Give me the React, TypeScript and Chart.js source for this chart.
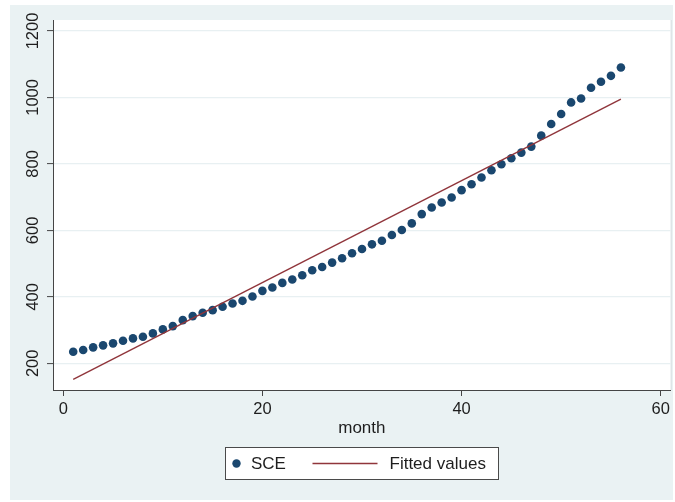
import { useEffect, useRef } from "react";
import { Chart, registerables } from "chart.js";

Chart.register(...registerables);

const months = [
  1, 2, 3, 4, 5, 6, 7, 8, 9, 10, 11, 12, 13, 14, 15, 16, 17, 18, 19, 20,
  21, 22, 23, 24, 25, 26, 27, 28, 29, 30, 31, 32, 33, 34, 35, 36, 37, 38, 39, 40,
  41, 42, 43, 44, 45, 46, 47, 48, 49, 50, 51, 52, 53, 54, 55, 56,
];
const sce = [
  235, 240, 248, 254, 260, 268, 275, 280, 290, 302, 312, 330, 342, 352, 360, 370, 380, 388, 401, 418,
  428, 442, 452, 465, 480, 490, 503, 516, 531, 544, 558, 569, 586, 601, 621, 649, 669, 684, 699, 721,
  739, 759, 781, 799, 817, 834, 852, 885, 920, 950, 985, 997, 1029, 1047, 1065, 1090,
];
const fittedMonths = [1, 56];
const fittedValues = [152, 995];
const xTicks = [0, 20, 40, 60];
const yTicks = [200, 400, 600, 800, 1000, 1200];
const seriesNames = ["SCE", "Fitted values"];
const xTitle = "month";

const FONT = '"Liberation Sans", Arial, Helvetica, sans-serif';
const NAVY = "#1a476f";
const MAROON = "#90353b";
const BG = "rgb(234,242,243)";
const TEXT = "#1e1e1e";
const AXIS = "#454545";

const stataPlugin = {
  id: "stataLook",
  beforeDraw(chart: any) {
    const { ctx, chartArea: a } = chart;
    ctx.save();
    ctx.fillStyle = "#ffffff";
    ctx.fillRect(0, 0, chart.width, chart.height);
    ctx.fillStyle = BG;
    ctx.fillRect(10, 5, 663, 495);
    ctx.fillStyle = "#ffffff";
    ctx.fillRect(a.left, a.top, a.right - a.left, a.bottom - a.top);
    ctx.strokeStyle = "#d8e0e2";
    ctx.lineWidth = 1;
    ctx.beginPath();
    ctx.moveTo(a.right + 0.5, a.top);
    ctx.lineTo(a.right + 0.5, a.bottom);
    ctx.stroke();
    ctx.restore();
  },
  afterDraw(chart: any) {
    const { ctx, chartArea: a } = chart;
    const ds = chart.data.datasets;
    const w = 273;
    const h = 32;
    const cx = (a.left + a.right) / 2;
    const left = Math.round(cx - w / 2) + 0.5;
    const top = 447.5;
    const cy = top + h / 2;
    ctx.save();
    ctx.fillStyle = "#ffffff";
    ctx.fillRect(left, top, w, h);
    ctx.strokeStyle = "#4a4a4a";
    ctx.lineWidth = 1;
    ctx.strokeRect(left, top, w, h);
    // SCE marker
    ctx.fillStyle = ds[1].backgroundColor;
    ctx.beginPath();
    ctx.arc(left + 11, cy, 4.2, 0, Math.PI * 2);
    ctx.fill();
    ctx.font = `17px ${FONT}`;
    ctx.fillStyle = TEXT;
    ctx.textBaseline = "middle";
    ctx.textAlign = "left";
    ctx.fillText(seriesNames[0], left + 25.5, cy + 1);
    // fitted line
    ctx.strokeStyle = ds[0].borderColor;
    ctx.lineWidth = 1.4;
    ctx.beginPath();
    ctx.moveTo(left + 87, cy);
    ctx.lineTo(left + 152, cy);
    ctx.stroke();
    ctx.fillText(seriesNames[1], left + 164, cy + 1);
    ctx.restore();
  },
};

export default function App() {
  const ref = useRef<HTMLCanvasElement | null>(null);

  useEffect(() => {
    if (!ref.current) return;
    const chart = new Chart(ref.current, {
      type: "scatter",
      data: {
        datasets: [
          {
            label: seriesNames[1],
            data: fittedMonths.map((m, i) => ({ x: m, y: fittedValues[i] })),
            showLine: true,
            borderColor: MAROON,
            backgroundColor: MAROON,
            borderWidth: 1.4,
            pointRadius: 0,
            order: 1,
          },
          {
            label: seriesNames[0],
            data: months.map((m, i) => ({ x: m, y: sce[i] })),
            backgroundColor: NAVY,
            borderColor: NAVY,
            borderWidth: 0,
            pointRadius: 4.3,
            order: 2,
          },
        ],
      },
      options: {
        responsive: false,
        animation: false,
        devicePixelRatio: 1,
        layout: { padding: { left: 10, top: 20, right: 3, bottom: 62 } },
        plugins: {
          legend: { display: false },
          tooltip: { enabled: false },
        },
        scales: {
          x: {
            type: "linear",
            min: -1.03,
            max: 61.0,
            afterBuildTicks: (s: any) => {
              s.ticks = xTicks.map((v) => ({ value: v }));
            },
            afterFit: (s: any) => {
              s.height = 50;
            },
            grid: {
              drawOnChartArea: false,
              drawTicks: true,
              tickLength: 6,
              tickColor: AXIS,
              tickWidth: 1,
            },
            border: { color: AXIS, width: 1 },
            ticks: {
              font: { size: 16.5, family: FONT },
              color: TEXT,
              padding: 4,
              maxRotation: 0,
              autoSkip: false,
              callback: (v: any) => String(v),
            },
            title: {
              display: true,
              text: xTitle,
              font: { size: 17, family: FONT },
              color: TEXT,
              padding: { top: 0, bottom: 1 },
            },
          },
          y: {
            type: "linear",
            min: 119.7,
            max: 1233,
            afterBuildTicks: (s: any) => {
              s.ticks = yTicks.map((v) => ({ value: v }));
            },
            afterFit: (s: any) => {
              s.width = 43;
            },
            grid: {
              color: "rgb(232,240,242)",
              lineWidth: 1.2,
              drawTicks: true,
              tickLength: 6,
              tickColor: AXIS,
              tickWidth: 1,
            },
            border: { color: AXIS, width: 1 },
            ticks: {
              font: { size: 16.5, family: FONT },
              color: TEXT,
              minRotation: 90,
              maxRotation: 90,
              crossAlign: "center",
              padding: -4.35,
              autoSkip: false,
              callback: (v: any) => String(v),
            },
          },
        },
      },
      plugins: [stataPlugin],
    } as any);
    return () => chart.destroy();
  }, []);

  return (
    <div style={{ position: "fixed", left: 0, top: 0, width: 675, height: 502, background: "#fff" }}>
      <canvas ref={ref} width={675} height={502} style={{ display: "block", width: 675, height: 502 }} />
    </div>
  );
}
